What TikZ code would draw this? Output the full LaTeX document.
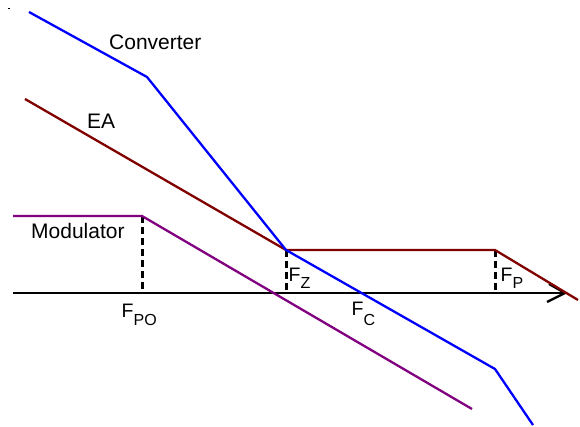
\documentclass[tikz,border=0pt]{standalone}
\usepackage{fontspec}
\setmainfont{Liberation Sans}
\definecolor{conv}{RGB}{0,0,255}
\definecolor{ea}{RGB}{128,0,0}
\definecolor{modc}{RGB}{128,0,128}
\newcommand{\flab}[2]{\fontsize{19.5}{20}\selectfont F\raisebox{-#2pt}{\fontsize{16}{16}\selectfont #1}}
\begin{document}
\begin{tikzpicture}[x=1pt,y=-1pt,
  curve/.style={line width=2.3pt,line join=miter},
  marker/.style={line width=3pt,dash pattern=on 7pt off 4pt},
  axisline/.style={line width=2.3pt,black},
  lbl/.style={inner sep=0pt,anchor=base west,font=\fontsize{21}{24}\selectfont},
  flbl/.style={inner sep=0pt,anchor=base west}]
\useasboundingbox (0,0) rectangle (580,427);
\fill[black] (8,8) rectangle (10,9.5);
% axis
\draw[axisline] (13,293) -- (564,293);
\draw[axisline,line join=miter] (549,284) -- (565,293) -- (547,302);
% dashed markers
\draw[marker] (142,216) -- (142,293);
\draw[marker] (286,250) -- (286,293);
\draw[marker] (495,250) -- (495,293);
% curves
\draw[curve,modc] (13,216) -- (142,216) -- (472,409);
\draw[curve,ea] (25,99) -- (286,250) -- (495,250) -- (578,300);
\draw[curve,conv] (29,12) -- (147,77) -- (286,250) -- (495,369) -- (533,425);
% labels
\node[lbl] (lconv) at (109,50) {Converter};
\node[lbl] (lea) at (87,129) {EA};
\node[lbl] (lmod) at (31,239) {Modulator};
\node[flbl] (lfpo) at (121.5,317) {\flab{PO}{8}};
\node[flbl] (lfz) at (288.5,281) {\flab{Z}{7}};
\node[flbl] (lfc) at (351.5,315) {\flab{C}{10}};
\node[flbl] (lfp) at (500.5,281) {\flab{P}{7}};
\end{tikzpicture}
\end{document}
